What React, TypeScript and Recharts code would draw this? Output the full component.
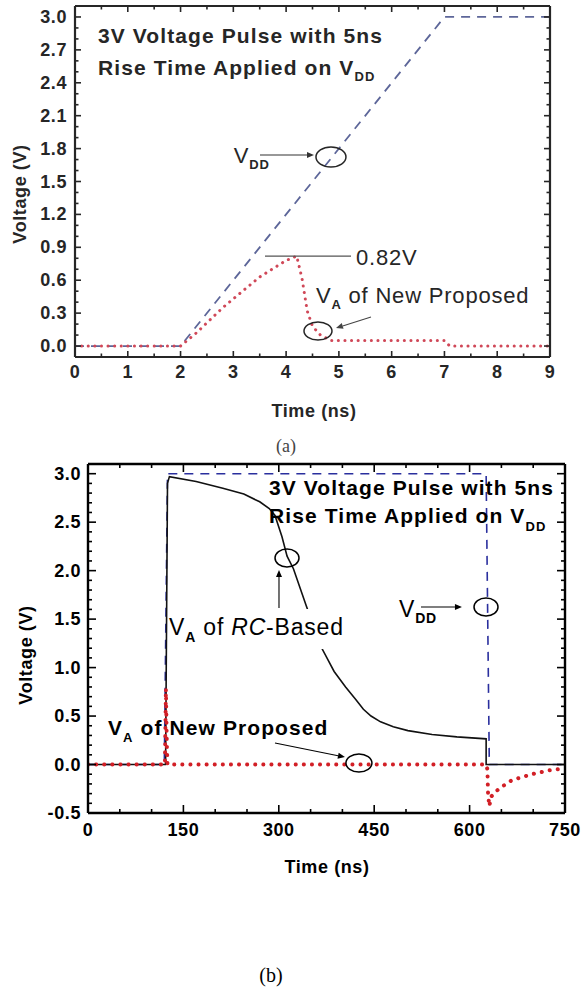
import React from "react";
import { LineChart, Line, XAxis, YAxis, ReferenceDot, ReferenceLine } from "recharts";

// (a) 3 V pulse with 5 ns rise, short time window (ns)
const vddTimeA = [0, 2, 7, 9];
const vddA = [0, 0, 3, 3];
const vaTimeA = [0, 2, 2.3, 2.8, 3.5, 4.0, 4.2, 4.3, 4.4, 4.5, 4.65, 4.85, 7.0, 7.1, 9];
const vaA = [0, 0, 0.12, 0.35, 0.63, 0.78, 0.82, 0.62, 0.32, 0.18, 0.1, 0.05, 0.05, 0, 0];
const xMajorA = [0, 1, 2, 3, 4, 5, 6, 7, 8, 9];
const yMajorA = [0, 0.3, 0.6, 0.9, 1.2, 1.5, 1.8, 2.1, 2.4, 2.7, 3.0];

// (b) long window (ns)
const vddTimeB = [0, 120, 125, 626, 631, 750];
const vddB = [0, 0, 3, 3, 0, 0];
const rcTimeB = [0, 122, 125, 128, 170, 212, 245, 270, 285, 294, 305, 313, 323, 343, 366, 387, 405, 421, 433, 445, 460, 480, 503, 541, 580, 626, 626, 750];
const rcB = [0, 0, 2.9, 2.97, 2.92, 2.85, 2.79, 2.71, 2.64, 2.57, 2.35, 2.15, 2.02, 1.64, 1.22, 0.96, 0.8, 0.67, 0.57, 0.5, 0.44, 0.39, 0.35, 0.31, 0.285, 0.265, 0, 0];
const vaTimeB = [0, 121, 122.5, 124, 125, 626, 628, 629, 631, 634, 646, 667, 698, 725, 750];
const vaB = [0, 0, 0.78, 0.2, 0, 0, -0.05, -0.3, -0.43, -0.33, -0.25, -0.16, -0.1, -0.06, -0.04];
const xMajorB = [0, 150, 300, 450, 600, 750];
const yMajorB = [-0.5, 0, 0.5, 1.0, 1.5, 2.0, 2.5, 3.0];

const SANS = "'Liberation Sans', Arial, Helvetica, sans-serif";
const SERIF = "'Liberation Serif', 'Times New Roman', serif";

const pts = (ts: number[], vs: number[]) => ts.map((t, i) => ({ t, v: vs[i] }));

const range = (a: number, b: number, s: number) => {
  const out: number[] = [];
  for (let v = a; v <= b + 1e-9; v += s) out.push(Math.round(v * 1000) / 1000);
  return out;
};
const has = (arr: number[], v: number) => arr.some((m) => Math.abs(m - v) < 1e-6);

type TickOpt = {
  color: string;
  major: number;
  minor: number;
  fs: number;
  gap: number;
  fmt?: (v: number) => string;
};

function makeTick(side: "left" | "right" | "top" | "bottom", majors: number[], o: TickOpt) {
  return (p: any) => {
    const { x, y, payload } = p;
    const v = payload.value;
    const big = has(majors, v);
    const len = big ? o.major : o.minor;
    let x2 = x;
    let y2 = y;
    if (side === "left") x2 = x + len;
    if (side === "right") x2 = x - len;
    if (side === "bottom") y2 = y - len;
    if (side === "top") y2 = y + len;
    const txt = { fontFamily: SANS, fontWeight: 700, fontSize: o.fs, fill: o.color, letterSpacing: 0.6 };
    return (
      <g>
        <line x1={x} y1={y} x2={x2} y2={y2} stroke={o.color} strokeWidth={1.6} />
        {big && o.fmt && side === "left" && (
          <text x={x - o.gap} y={y} textAnchor="end" dominantBaseline="central" {...txt}>
            {o.fmt(v)}
          </text>
        )}
        {big && o.fmt && side === "bottom" && (
          <text x={x} y={y + o.gap} textAnchor="middle" dominantBaseline="central" {...txt}>
            {o.fmt(v)}
          </text>
        )}
      </g>
    );
  };
}

const note = (key: string, x: number, y: number, draw: (cx: number, cy: number) => React.ReactElement) => (
  <ReferenceDot key={key} x={x} y={y} r={0} ifOverflow="visible" shape={(p: any) => draw(p.cx, p.cy)} />
);

const arrowShape = (color: string, head: boolean) => (p: any) => {
  const { x1, y1, x2, y2 } = p;
  const a = Math.atan2(y2 - y1, x2 - x1);
  const L = head ? 7 : 0;
  const W = 3;
  const bx = x2 - L * Math.cos(a);
  const by = y2 - L * Math.sin(a);
  const tri = `${x2},${y2} ${bx - W * Math.sin(a)},${by + W * Math.cos(a)} ${bx + W * Math.sin(a)},${by - W * Math.cos(a)}`;
  return (
    <g>
      <line x1={x1} y1={y1} x2={bx} y2={by} stroke={color} strokeWidth={1.1} />
      {head && <polygon points={tri} fill={color} />}
    </g>
  );
};

const arrow = (key: string, from: [number, number], to: [number, number], color: string, head = true) => (
  <ReferenceLine
    key={key}
    segment={[
      { x: from[0], y: from[1] },
      { x: to[0], y: to[1] },
    ]}
    ifOverflow="visible"
    shape={arrowShape(color, head)}
  />
);

const ring = (key: string, x: number, y: number, rx: number, ry: number, color: string) =>
  note(key, x, y, (cx, cy) => <ellipse cx={cx} cy={cy} rx={rx} ry={ry} fill="none" stroke={color} strokeWidth={1.5} />);

const bigText = (fill: string) => ({ fontFamily: SANS, fontWeight: 700, fontSize: 21, fill, letterSpacing: 1.1 });
const noteText = (fill: string, size = 22) => ({ fontFamily: SANS, fontWeight: 400, fontSize: size, fill, letterSpacing: 0.8 });

function PanelA() {
  const c = "#262626";
  const tk = { color: c, major: 6, minor: 3.5, fs: 18, gap: 8 };
  const frame = { stroke: c, strokeWidth: 2.2 };
  const xTicks = range(0, 9, 0.5);
  const yTicks = range(0, 3.0, 0.1);
  return (
    <LineChart width={582} height={460} margin={{ top: 5, right: 31, bottom: 73, left: 0 }}>
      <XAxis
        dataKey="t"
        type="number"
        domain={[0, 9]}
        allowDataOverflow
        ticks={xTicks}
        interval={0}
        height={30}
        tickSize={0}
        tickMargin={0}
        tickLine={false}
        axisLine={frame}
        tick={makeTick("bottom", xMajorA, { ...tk, gap: 15, fmt: (v) => String(v) })}
      />
      <XAxis
        xAxisId="top"
        orientation="top"
        dataKey="t"
        type="number"
        domain={[0, 9]}
        allowDataOverflow
        ticks={xTicks}
        interval={0}
        height={1}
        tickSize={0}
        tickMargin={0}
        tickLine={false}
        axisLine={frame}
        tick={makeTick("top", xMajorA, tk)}
      />
      <YAxis
        type="number"
        domain={[-0.1, 3.1]}
        allowDataOverflow
        ticks={yTicks}
        interval={0}
        width={75}
        tickSize={0}
        tickMargin={0}
        tickLine={false}
        axisLine={frame}
        tick={makeTick("left", yMajorA, { ...tk, fmt: (v) => v.toFixed(1) })}
      />
      <YAxis
        yAxisId="right"
        orientation="right"
        type="number"
        domain={[-0.1, 3.1]}
        allowDataOverflow
        ticks={yTicks}
        interval={0}
        width={1}
        tickSize={0}
        tickMargin={0}
        tickLine={false}
        axisLine={frame}
        tick={makeTick("right", yMajorA, tk)}
      />
      <Line
        data={pts(vddTimeA, vddA)}
        dataKey="v"
        type="linear"
        stroke="#5d6699"
        strokeWidth={1.8}
        strokeDasharray="9 7"
        dot={false}
        activeDot={false}
        isAnimationActive={false}
      />
      <Line
        data={pts(vaTimeA, vaA)}
        dataKey="v"
        type="linear"
        stroke="#d04858"
        strokeWidth={3}
        strokeDasharray="0.1 6.5"
        strokeLinecap="round"
        dot={false}
        activeDot={false}
        isAnimationActive={false}
      />
      {note("ta", 0.436, 2.762, (x, y) => (
        <g {...bigText(c)}>
          <text x={x} y={y}>3V Voltage Pulse with 5ns</text>
          <text x={x} y={y + 32}>
            Rise Time Applied on V<tspan fontSize={13} dy={6}>DD</tspan>
          </text>
        </g>
      ))}
      {note("vdda", 3.01, 1.668, (x, y) => (
        <text x={x} y={y} {...noteText(c)}>
          V<tspan fontSize={13} fontWeight={700} dy={6}>DD</tspan>
        </text>
      ))}
      {arrow("vddarr", [3.505, 1.741], [4.528, 1.741], "#333")}
      {ring("vddring", 4.85, 1.723, 15, 10, c)}
      {arrow("peak", [3.6, 0.82], [5.23, 0.82], "#555", false)}
      {note("peakt", 5.324, 0.738, (x, y) => (
        <text x={x} y={y} {...noteText(c)}>0.82V</text>
      ))}
      {note("vaa", 4.566, 0.392, (x, y) => (
        <text x={x} y={y} {...noteText(c)}>
          V<tspan fontSize={13} fontWeight={700} dy={6}>A</tspan>
          <tspan dy={-6}> of New Proposed</tspan>
        </text>
      ))}
      {arrow("vaarr", [5.608, 0.264], [4.945, 0.164], "#444")}
      {ring("varing", 4.604, 0.137, 14, 9, c)}
    </LineChart>
  );
}

function PanelB() {
  const c = "#000";
  const tk = { color: c, major: 8, minor: 4, fs: 18, gap: 7 };
  const frame = { stroke: c, strokeWidth: 2.4 };
  const xTicks = range(0, 750, 50);
  const yTicks = range(-0.5, 3.0, 0.1);
  return (
    <LineChart width={582} height={533} margin={{ top: 3, right: 16, bottom: 150, left: 0 }}>
      <XAxis
        dataKey="t"
        type="number"
        domain={[0, 750]}
        allowDataOverflow
        ticks={xTicks}
        interval={0}
        height={30}
        tickSize={0}
        tickMargin={0}
        tickLine={false}
        axisLine={frame}
        tick={makeTick("bottom", xMajorB, { ...tk, gap: 17, fmt: (v) => String(v) })}
      />
      <XAxis
        xAxisId="top"
        orientation="top"
        dataKey="t"
        type="number"
        domain={[0, 750]}
        allowDataOverflow
        ticks={xTicks}
        interval={0}
        height={1}
        tickSize={0}
        tickMargin={0}
        tickLine={false}
        axisLine={frame}
        tick={makeTick("top", xMajorB, tk)}
      />
      <YAxis
        type="number"
        domain={[-0.5, 3.1]}
        allowDataOverflow
        ticks={yTicks}
        interval={0}
        width={88}
        tickSize={0}
        tickMargin={0}
        tickLine={false}
        axisLine={frame}
        tick={makeTick("left", yMajorB, { ...tk, fmt: (v) => v.toFixed(1) })}
      />
      <YAxis
        yAxisId="right"
        orientation="right"
        type="number"
        domain={[-0.5, 3.1]}
        allowDataOverflow
        ticks={yTicks}
        interval={0}
        width={1}
        tickSize={0}
        tickMargin={0}
        tickLine={false}
        axisLine={frame}
        tick={makeTick("right", yMajorB, tk)}
      />
      <Line
        data={pts(vddTimeB, vddB)}
        dataKey="v"
        type="linear"
        stroke="#2a2f9e"
        strokeWidth={1.6}
        strokeDasharray="9 7"
        dot={false}
        activeDot={false}
        isAnimationActive={false}
      />
      <Line
        data={pts(rcTimeB, rcB)}
        dataKey="v"
        type="linear"
        stroke="#111"
        strokeWidth={1.6}
        dot={false}
        activeDot={false}
        isAnimationActive={false}
      />
      <Line
        data={pts(vaTimeB, vaB)}
        dataKey="v"
        type="linear"
        stroke="#d21f26"
        strokeWidth={4}
        strokeDasharray="0.1 8"
        strokeLinecap="round"
        dot={false}
        activeDot={false}
        isAnimationActive={false}
      />
      {note("tb", 284.6, 2.78, (x, y) => (
        <g {...bigText(c)}>
          <text x={x} y={y}>3V Voltage Pulse with 5ns</text>
          <text x={x} y={y + 28}>
            Rise Time Applied on V<tspan fontSize={13} dy={8}>DD</tspan>
          </text>
        </g>
      ))}
      {note("rcb", 127.4, 1.336, (x, y) => (
        <g>
          <rect x={x + 1} y={y - 26} width={182} height={40} fill="#fff" />
          <text x={x} y={y} {...noteText(c, 23)}>
            V<tspan fontSize={14} fontWeight={700} dy={7}>A</tspan>
            <tspan dy={-7}> of </tspan>
            <tspan fontStyle="italic">RC</tspan>-Based
          </text>
        </g>
      ))}
      {arrow("rcarr", [300.3, 1.614], [300.3, 2.006], c)}
      {ring("rcring", 312.9, 2.13, 12, 9, c)}
      {note("vddb", 489, 1.52, (x, y) => (
        <text x={x} y={y} {...noteText(c, 23)}>
          V<tspan fontSize={14} fontWeight={700} dy={6}>DD</tspan>
        </text>
      ))}
      {arrow("vddbarr", [523.6, 1.625], [588, 1.625], c)}
      {ring("vddbring", 625.8, 1.625, 12, 9, c)}
      {note("vab", 31.4, 0.304, (x, y) => (
        <text x={x} y={y} {...bigText(c)}>
          V<tspan fontSize={13} dy={7}>A</tspan>
          <tspan dy={-7}> of New Proposed</tspan>
        </text>
      ))}
      {arrow("vabarr", [294, 0.222], [404, 0.077], c)}
      {ring("vabring", 426, 0.015, 13, 9, c)}
    </LineChart>
  );
}

export default function App() {
  const title = { fontFamily: SANS, fontWeight: 700, fontSize: 18, letterSpacing: 0.6 };
  return (
    <div style={{ position: "absolute", left: 0, top: 0, width: 582, height: 993, background: "#fff" }}>
      <div style={{ position: "absolute", left: 0, top: 0 }}>
        <PanelA />
      </div>
      <div style={{ position: "absolute", left: 0, top: 460 }}>
        <PanelB />
      </div>
      <svg
        width={582}
        height={993}
        style={{ position: "absolute", left: 0, top: 0, pointerEvents: "none" }}
      >
        <text transform="translate(20,194) rotate(-90)" textAnchor="middle" dominantBaseline="central" fill="#262626" {...title}>
          Voltage (V)
        </text>
        <text x={314} y={417} textAnchor="middle" fill="#262626" {...title}>
          Time (ns)
        </text>
        <text x={286} y={452} textAnchor="middle" fontFamily={SERIF} fontSize={18} fill="#444">
          (a)
        </text>
        <text transform="translate(26,655) rotate(-90)" textAnchor="middle" dominantBaseline="central" fill="#000" {...title}>
          Voltage (V)
        </text>
        <text x={327} y={873} textAnchor="middle" fill="#000" {...title}>
          Time (ns)
        </text>
        <text x={271} y={982} textAnchor="middle" fontFamily={SERIF} fontSize={20} fill="#000">
          (b)
        </text>
      </svg>
    </div>
  );
}
